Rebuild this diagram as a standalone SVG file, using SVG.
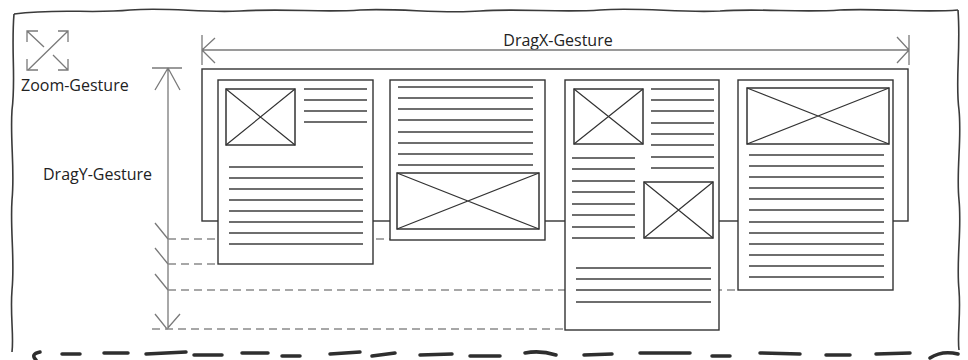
<svg xmlns="http://www.w3.org/2000/svg" width="968" height="360" viewBox="0 0 968 360">
<style>
.frame{fill:none;stroke:#3a3a3a;stroke-width:1.6}
.page{fill:#fff;stroke:#333;stroke-width:1.4}
.img{fill:#fff;stroke:#333;stroke-width:1.5}
.x{stroke:#333;stroke-width:1.2}
.tl{stroke:#6e6e6e;stroke-width:2}
.arr{fill:none;stroke:#7a7a7a;stroke-width:1.3}
.dash{fill:none;stroke:#8a8a8a;stroke-width:1.5;stroke-dasharray:8 5}
.lbl{font-family:"Open Sans","Liberation Sans",sans-serif;font-size:16px;fill:#222}
.torn{fill:none;stroke:#2e2e2e;stroke-width:3.5;stroke-linecap:round}
</style>
<rect width="968" height="360" fill="#fff"/>
<g id="frame">
<path class="frame" d="M14,14 C60,8 90,14 130,10 C170,7 200,13 240,11 C290,8 320,13 360,10 C400,8 440,14 480,11 C520,8 560,13 600,10 C640,7 680,13 720,11 C760,8 800,13 840,10 C880,8 920,13 958,10"/>
<path class="frame" d="M14,14 C11,50 16,80 12,110 C10,140 15,170 12,200 C10,230 15,260 12,290 C10,315 14,335 12,352"/>
<path class="frame" d="M958,10 C961,50 955,80 959,110 C962,140 956,170 959,200 C962,230 956,260 959,290 C961,315 957,335 959,350"/>
<path class="torn" d="M36,360 Q30,354 40,352 M62,354 L80,354 M104,353 L128,353 M146,354 L186,352 M194,355 L222,355 M242,353 L268,353 M282,356 L300,356 M330,354 L360,352 M372,356 L395,353 M420,355 L452,354 M470,356 L500,356 M525,353 Q540,350 556,355 M584,355 L612,354 M640,353 L690,353 M712,356 L730,356 M760,353 L800,354 M826,355 L850,355 M876,354 L910,353 M930,358 Q942,350 958,354"/>
</g>
<g id="zoom-icon" class="arr">
<path d="M27,42 V31 H38 M27,31 L44,47"/>
<path d="M58,31 H68 V42 M28,70 L68,31"/>
<path d="M27,59 V70 H38"/>
<path d="M68,59 V70 H58 M53,55 L68,70"/>
</g>
<g id="labels">
<text class="lbl" x="21" y="91">Zoom-Gesture</text>
<text class="lbl" x="558" y="46" text-anchor="middle">DragX-Gesture</text>
<text class="lbl" x="43" y="180">DragY-Gesture</text>
</g>
<g id="connectors">
<path class="arr" d="M202,35 V65 M202,50 H909 M909,35 V65 M215,38 L202,50 L215,63 M897,37 L909,50 L897,63"/>
<path class="arr" d="M152,68 H182 M168,68 V329 M155,90 L168,68 L180,90 M155,314 L167,329 L180,314"/>
<path class="arr" d="M155,223 L168,239 M155,248 L168,264 M155,274 L168,290"/>
<path class="dash" d="M168,239 H390 M168,264 H218 M168,290 H738 M152,329 H565"/>
</g>
<g id="container">
<rect class="page" x="202" y="69" width="706" height="152"/>
</g>
<g id="page-1">
<rect class="page" x="218" y="80" width="155" height="184"/>
<rect class="img" x="226" y="89" width="69" height="56"/>
<path class="x" d="M226,89 L295,145 M295,89 L226,145"/>
<path class="tl" d="M304,89 H367 M304,100 H367 M304,111 H367 M304,122 H367"/>
<path class="tl" d="M229,167 H363 M229,178 H363 M229,189 H363 M229,200 H363 M229,211 H363 M229,222 H363 M229,233 H363 M229,244 H363"/>
</g>
<g id="page-2">
<rect class="page" x="390" y="80" width="155" height="160"/>
<path class="tl" d="M398,87 H533 M398,98 H533 M398,109 H533 M398,120 H533 M398,132 H533 M398,143 H533 M398,154 H533 M398,165 H533"/>
<rect class="img" x="397" y="173" width="142" height="56"/>
<path class="x" d="M397,173 L539,229 M539,173 L397,229"/>
</g>
<g id="page-3">
<rect class="page" x="565" y="80" width="154" height="250"/>
<rect class="img" x="574" y="89" width="69" height="55"/>
<path class="x" d="M574,89 L643,144 M643,89 L574,144"/>
<path class="tl" d="M651,89 H714 M651,100 H714 M651,111 H714 M651,123 H714 M651,134 H714 M651,145 H714 M651,157 H714 M651,168 H714"/>
<path class="tl" d="M572,158 H635 M572,169 H635 M572,181 H635 M572,192 H635 M572,204 H635 M572,215 H635 M572,227 H635 M572,238 H635"/>
<rect class="img" x="644" y="182" width="69" height="56"/>
<path class="x" d="M644,182 L713,238 M713,182 L644,238"/>
<path class="tl" d="M576,268 H711 M576,279 H711 M576,290 H711 M576,302 H711"/>
</g>
<g id="page-4">
<rect class="page" x="738" y="80" width="155" height="210"/>
<rect class="img" x="747" y="88" width="142" height="56"/>
<path class="x" d="M747,88 L889,144 M889,88 L747,144"/>
<path class="tl" d="M749,155 H884 M749,166 H884 M749,177 H884 M749,188 H884 M749,199 H884 M749,210 H884 M749,222 H884 M749,233 H884 M749,244 H884 M749,255 H884 M749,266 H884 M749,277 H884"/>
</g>
</svg>
